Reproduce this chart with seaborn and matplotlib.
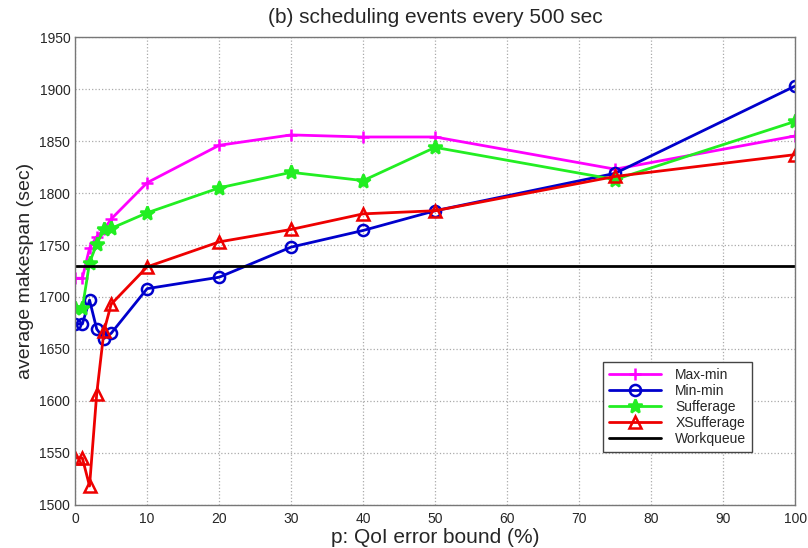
import numpy as np
import pandas as pd
import matplotlib
matplotlib.use("Agg")
import matplotlib.pyplot as plt
import seaborn as sns

# p: QoI error bound (%)
p_values = [0, 1, 2, 3, 4, 5, 10, 20, 30, 40, 50, 75, 100]

max_min = [1718, 1718, 1747, 1758, 1765, 1775, 1810, 1846, 1856, 1854, 1854, 1823, 1855]
min_min = [1674, 1674, 1697, 1669, 1660, 1665, 1708, 1719, 1748, 1764, 1783, 1819, 1903]
sufferage = [1689, 1689, 1733, 1751, 1765, 1766, 1781, 1805, 1820, 1812, 1844, 1813, 1869]
xsufferage = [1545, 1545, 1518, 1607, 1667, 1693, 1729, 1753, 1765, 1780, 1783, 1816, 1837]
workqueue = 1730

series_names = ["Max-min", "Min-min", "Sufferage", "XSufferage"]
series_vals = [max_min, min_min, sufferage, xsufferage]
colors = {"Max-min": "#ff00ff", "Min-min": "#0000cc", "Sufferage": "#22ee22", "XSufferage": "#ee0000"}
markers = {"Max-min": "+", "Min-min": "o", "Sufferage": "*", "XSufferage": "^"}

df = pd.DataFrame({
    "p": p_values * len(series_names),
    "makespan": sum(series_vals, []),
    "algo": np.repeat(series_names, len(p_values)),
})

sns.set_style("whitegrid")
plt.rcParams["font.family"] = ["Liberation Sans Narrow", "Liberation Sans", "DejaVu Sans"]

fig = plt.figure(figsize=(8.08, 5.48), dpi=100)
ax = fig.add_axes([0.093, 0.079, 0.891, 0.853])

for name in series_names:
    sub = df[df["algo"] == name]
    kw = dict(marker=markers[name], markersize=8, markeredgewidth=1.8)
    if name in ("Min-min", "XSufferage"):
        kw["markerfacecolor"] = "none"
    if name == "Sufferage":
        kw["markersize"] = 10
    sns.lineplot(data=sub, x="p", y="makespan", color=colors[name], linewidth=2,
                 label=name, ax=ax, markeredgecolor=colors[name], **kw)

sns.lineplot(x=[p_values[0], p_values[-1]], y=[workqueue, workqueue], color="black",
             linewidth=2, label="Workqueue", ax=ax)

ax.set_xlim(0, 100)
ax.set_ylim(1500, 1950)
ax.set_xticks(range(0, 101, 10))
ax.set_yticks(range(1500, 1951, 50))
ax.grid(True, linestyle=":", color="#aaaaaa", linewidth=0.9)
for s in ax.spines.values():
    s.set_color("#777777")
    s.set_linewidth(1)
ax.tick_params(direction="in", length=4, labelsize=10, color="#777777")
ax.tick_params(axis="x", pad=5)

ax.set_title("(b) scheduling events every 500 sec", fontsize=15, pad=10)
ax.set_xlabel("p: QoI error bound (%)", fontsize=15, labelpad=2)
ax.set_ylabel("average makespan (sec)", fontsize=14)

leg = ax.legend(loc="lower right", bbox_to_anchor=(0.94, 0.113), borderaxespad=0,
                fontsize=10, frameon=True, fancybox=False, edgecolor="#444444",
                framealpha=1, handlelength=3.8, handletextpad=1.0, borderpad=0.4,
                labelspacing=0.15)
leg.get_frame().set_linewidth(1)

fig.savefig("out.png", dpi=100)
